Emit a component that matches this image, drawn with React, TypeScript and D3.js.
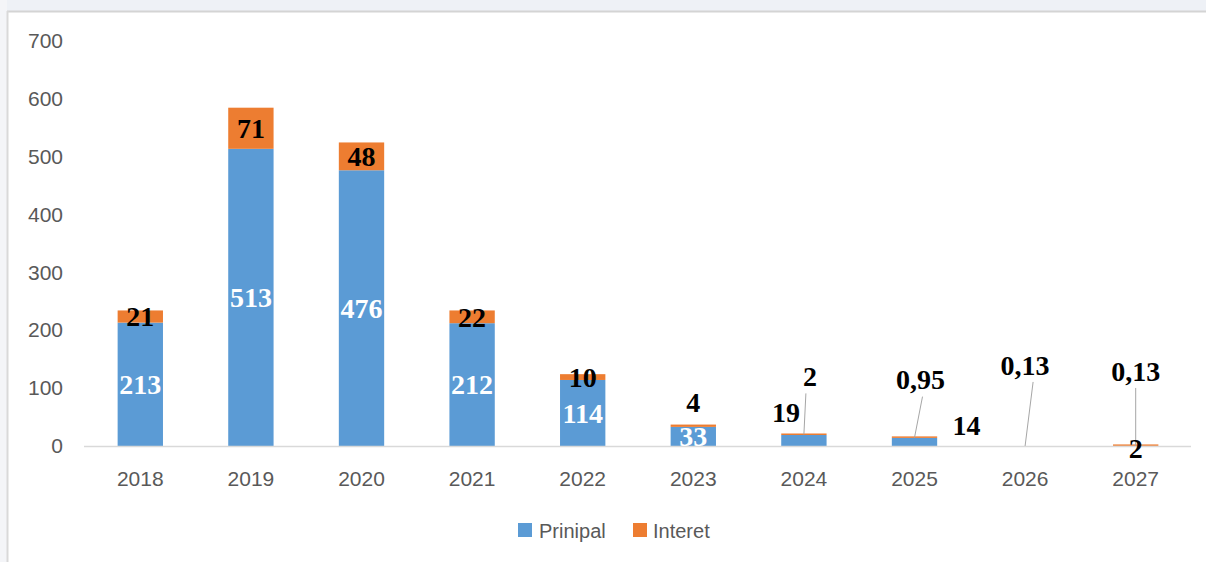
import React from "react";
import * as d3 from "d3";

const W = 1206;
const H = 562;

const years = ["2018", "2019", "2020", "2021", "2022", "2023", "2024", "2025", "2026", "2027"];
const principal = [213, 513, 476, 212, 114, 33, 19, 14, 0.13, 0.13];
const interest = [21, 71, 48, 22, 10, 4, 2, 0.95, 0, 2];
const yTicks = [0, 100, 200, 300, 400, 500, 600, 700];
const seriesNames = ["Prinipal", "Interet"];

// label nudges for the small bars (dx, dy from default centre, leader line x shift)
const principalNudge = [
  null, null, null, null, null, null,
  { dx: -18, dy: -28 },
  { dx: 52, dy: -17 },
  { dx: 0, dy: -81, leader: 8 },
  { dx: 0, dy: -75, leader: 0 },
];
const interestNudge = [
  null, null, null, null, null,
  { dx: 0, dy: -24 },
  { dx: 6, dy: -58, leader: -4 },
  { dx: 6, dy: -58, leader: 2 },
  null,
  { dx: 0, dy: 3 },
];

const BLUE = "#5B9BD5";
const ORANGE = "#ED7D31";
const AXIS_TEXT = "#595959";

const fmt = (v: number) => String(v).replace(".", ",");

export default function App() {
  const x = d3.scaleBand<string>().domain(years).range([85, 1191]).paddingInner(0.59).paddingOuter(0.295);
  const y = d3.scaleLinear().domain([0, 700]).range([446, 40.5]);

  const data = years.map((yr, i) => ({ year: yr, p: principal[i], it: interest[i] }));
  const stack = d3.stack<any>().keys(["p", "it"]);
  const series = stack(data);
  const colors = [BLUE, ORANGE];

  const labels: any[] = [];
  series.forEach((s, si) => {
    s.forEach((seg, i) => {
      const v = si === 0 ? principal[i] : interest[i];
      if (!v) return;
      const cx = (x(years[i]) as number) + x.bandwidth() / 2;
      const cy = (y(seg[0]) + y(seg[1])) / 2;
      const nudge = (si === 0 ? principalNudge : interestNudge)[i];
      const lx = cx + (nudge ? nudge.dx : 0);
      const ly = cy + (nudge ? nudge.dy : 0);
      const outside = !!nudge;
      labels.push({
        key: `${si}-${i}`,
        text: fmt(v),
        x: lx,
        y: ly,
        fill: si === 0 && !outside ? "#ffffff" : "#000000",
        leader: nudge && nudge.leader !== undefined ? { x1: lx + nudge.leader, y1: ly + 17, x2: cx, y2: Math.min(cy, 446) } : null,
      });
    });
  });

  // small interest segments still show as a thin orange line
  const segRect = (seg: any, si: number) => {
    const top = y(seg[1]);
    const bottom = y(seg[0]);
    const h = bottom - top;
    if (seg[1] - seg[0] <= 0) return { y: bottom, h: 0 };
    if (si === 1 && h < 1.5) return { y: bottom - 1.5, h: 1.5 };
    return { y: top, h };
  };

  return (
    <svg width={W} height={H} style={{ position: "absolute", left: 0, top: 0, background: "#ffffff" }}>
      {/* screenshot frame */}
      <rect x={0} y={0} width={W} height={11} fill="#eef1f6" />
      <rect x={0} y={0} width={7} height={H} fill="#f4f5f8" />
      <line x1={7} x2={W} y1={11.5} y2={11.5} stroke="#d4d4d4" strokeWidth={2} />
      <line x1={7.5} x2={7.5} y1={11} y2={H} stroke="#d9d9d9" strokeWidth={2} />

      {yTicks.map((t) => (
        <text key={t} x={63} y={y(t)} dy="0.35em" textAnchor="end" fontFamily="'Liberation Sans', Arial, sans-serif" fontSize={21} fill={AXIS_TEXT}>
          {t}
        </text>
      ))}

      {series.map((s, si) => (
        <g key={si} fill={colors[si]}>
          {s.map((seg, i) => {
            const r = segRect(seg, si);
            if (r.h <= 0.5) return null;
            return <rect key={i} x={x(years[i])} y={r.y} width={x.bandwidth()} height={r.h} />;
          })}
        </g>
      ))}

      <line x1={84} x2={1191} y1={446.5} y2={446.5} stroke="#d9d9d9" strokeWidth={1.5} />

      {years.map((yr) => (
        <text key={yr} x={(x(yr) as number) + x.bandwidth() / 2} y={479} dy="0.35em" textAnchor="middle" fontFamily="'Liberation Sans', Arial, sans-serif" fontSize={21} fill={AXIS_TEXT}>
          {yr}
        </text>
      ))}

      {labels.map((l) =>
        l.leader ? (
          <line key={"l" + l.key} x1={l.leader.x1} y1={l.leader.y1} x2={l.leader.x2} y2={l.leader.y2} stroke="#a6a6a6" strokeWidth={1} />
        ) : null
      )}
      {labels.map((l) => (
        <text key={l.key} x={l.x} y={l.y} dy="0.35em" textAnchor="middle" fontFamily="'Liberation Serif', 'Times New Roman', serif" fontWeight="bold" fontSize={28} fill={l.fill}>
          {l.text}
        </text>
      ))}

      <g fontFamily="'Liberation Sans', Arial, sans-serif" fontSize={20} fill={AXIS_TEXT}>
        <rect x={518} y={523} width={14} height={14} fill={BLUE} />
        <text x={539} y={531} dy="0.35em">{seriesNames[0]}</text>
        <rect x={633} y={523} width={14} height={14} fill={ORANGE} />
        <text x={653} y={531} dy="0.35em">{seriesNames[1]}</text>
      </g>
    </svg>
  );
}
